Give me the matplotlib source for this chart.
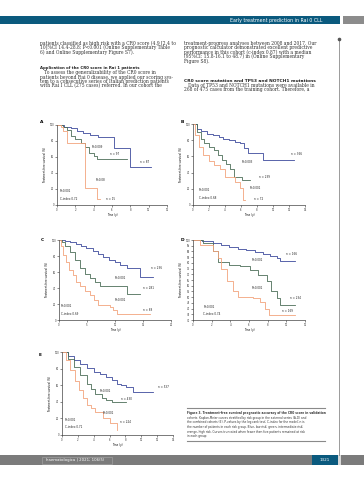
import matplotlib.pyplot as plt
from matplotlib.patches import Rectangle

W, H = 364, 480
BLUE = '#3d4a9c'
GREEN = '#4c6e58'
ORANGE = '#f2a47c'
TEAL = '#0b5a7e'
GREY = '#7b7b7b'

# ---- survival data (time in years, % treatment-free) ----
A_blue_t = [0, 0.8, 1.5, 2.2, 2.8, 3.6, 4.5, 6.2, 8.0, 10.2]
A_blue_s = [100, 98, 96, 93, 90, 87, 85, 71, 48, 48]
A_green_t = [0, 0.7, 1.1, 1.5, 2.0, 2.6, 3.0, 3.5, 4.0, 4.4, 7.6]
A_green_s = [100, 97, 94, 86, 82, 77, 72, 65, 61, 58, 58]
A_orange_t = [0, 0.4, 0.7, 1.1, 3.1, 4.4, 4.7]
A_orange_s = [100, 97, 92, 77, 21, 8, 8]

B_blue_t = [0, 0.5, 1.0, 1.75, 2.5, 3.2, 3.8, 4.5, 5.2, 5.9, 6.4, 6.9, 8.8, 12.6]
B_blue_s = [100, 94, 91, 88, 86, 84, 82, 80, 78, 76, 70, 64, 55, 55]
B_green_t = [0, 0.5, 1.0, 1.33, 2.0, 2.6, 3.1, 3.6, 4.1, 4.65, 5.1, 6.1, 7.15]
B_green_s = [100, 90, 82, 76, 72, 68, 62, 55, 50, 44, 35, 31, 31]
B_orange_t = [0, 0.3, 0.7, 1.3, 1.95, 2.6, 3.4, 4.0, 5.3, 5.9, 6.3, 6.5]
B_orange_s = [100, 86, 72, 62, 54, 49, 44, 35, 29, 21, 6, 6]

C_blue_t = [0, 1, 2, 3, 4, 4.9, 6, 7, 7.9, 9, 10, 10.9, 12.1, 14.4, 16.8]
C_blue_s = [100, 99, 97, 95, 93, 90, 86, 82, 79, 75, 72, 69, 65, 54, 54]
C_green_t = [0, 0.5, 1.0, 1.9, 2.8, 3.7, 4.6, 5.5, 6.4, 7.3, 12.1, 14.4]
C_green_s = [100, 97, 92, 85, 75, 65, 58, 52, 47, 42, 33, 33]
C_orange_t = [0, 0.3, 0.7, 1.2, 1.8, 2.5, 3.1, 3.7, 4.6, 5.5, 6.3, 7.0, 9.1, 9.7, 10.3, 16.2]
C_orange_s = [100, 92, 81, 72, 63, 56, 48, 42, 36, 31, 25, 19, 16, 12, 8, 8]

D_blue_t = [0, 1, 2.15, 3, 3.9, 4.8, 5.7, 6.6, 7.5, 8.3, 9.0, 9.3, 10.9]
D_blue_s = [100, 99, 97, 95.5, 94, 92.5, 91, 89.5, 88, 86, 84, 82, 82]
D_green_t = [0, 1.1, 2.15, 2.7, 3.9, 5.0, 6.1, 7.0, 7.9, 8.4, 9.0, 9.3, 10.9]
D_green_s = [100, 97, 90, 81, 78, 77, 74, 69, 64, 55, 49, 43, 43]
D_orange_t = [0, 0.7, 2.15, 2.7, 3.05, 3.6, 4.3, 4.85, 6.45, 7.2, 7.7, 8.1, 10.9]
D_orange_s = [100, 96, 90, 84, 75, 64, 55, 50, 49, 46, 40, 34, 34]

E_blue_t = [0, 0.7, 1.46, 2.3, 3.1, 4.0, 4.8, 5.6, 6.3, 6.9, 7.5, 8.1, 9.0, 11.5]
E_blue_s = [100, 95, 90, 86, 81, 76, 73, 70, 66, 62, 60, 58, 52, 52]
E_green_t = [0, 0.7, 1.46, 2.3, 3.1, 3.6, 4.2, 5.0, 5.6, 6.3, 8.1]
E_green_s = [100, 92, 82, 72, 62, 56, 50, 44, 42, 40, 40]
E_orange_t = [0, 0.5, 1.04, 1.6, 2.1, 2.6, 3.1, 3.6, 4.2, 5.2, 6.05, 6.9]
E_orange_s = [100, 90, 78, 65, 54, 44, 36, 32, 28, 20, 14, 6]

# axis ticks per panel
A_xticks = [0, 2, 4, 6, 8, 10, 12]
B_xticks = [0, 2, 4, 6, 8, 10, 12, 14]
C_xticks = [0, 5, 10, 15, 20]
D_xticks = [0, 2, 4, 6, 8, 10, 12]
E_xticks = [0, 2, 4, 6, 8, 10, 12, 14]
pct_ticks = [0, 20, 40, 60, 80, 100]
D_yticks = list(range(30, 101, 5))

# in-panel annotations (text, time, value)
A_notes = [("P=0.009", 3.8, 73), ("n = 97", 5.8, 64), ("n = 87", 9.1, 54),
           ("P=0.08", 4.2, 31), ("n = 15", 5.3, 8),
           ("P<0.001", 0.35, 17), ("C-index 0.72", 0.35, 7)]
B_notes = [("n = 366", 12.3, 63), ("P=0.003", 6.1, 53), ("n = 239", 8.2, 35),
           ("P=0.001", 7.15, 21), ("n = 72", 7.6, 8),
           ("P<0.001", 0.7, 19), ("C-index 0.68", 0.7, 9)]
C_notes = [("n = 236", 16.5, 65), ("P=0.001", 10, 53), ("n = 281", 15, 40),
           ("P<0.001", 10, 25), ("n = 88", 15, 12.5),
           ("P<0.001", 0.4, 17), ("C-index 0.69", 0.4, 7)]
D_notes = [("n = 166", 10, 88), ("P<0.001", 6.3, 82.5), ("P<0.001", 6.3, 58),
           ("n = 234", 10.4, 49.5), ("n = 169", 9.5, 38),
           ("P<0.001", 1.1, 41.7), ("C-index 0.74", 1.1, 35)]
E_notes = [("n = 537", 12.1, 58), ("P<0.001", 4.8, 53), ("n = 430", 7.5, 43),
           ("P<0.001", 5.2, 26), ("n = 224", 7.3, 16),
           ("P<0.001", 0.4, 18), ("C-index 0.71", 0.4, 10)]

col1_lines = ["patients classified as high risk with a CR0 score (4.9 [2.4 to",
              "10]%CI 14.4-28.8; P<0.001 (Online Supplementary Table",
              "6) and Online Supplementary Figure S7)."]
col1_head = "Application of the CR0 score in Rai 1 patients"
col1_para = ["   To assess the generalizability of the CR0 score in",
             "patients beyond Rai 0 disease, we applied our scoring sys-",
             "tem to a consecutive series of Italian prediction patients",
             "with Rai I CLL (275 cases) referred. In our cohort the"]
col2_lines = ["treatment-progress analyses between 2008 and 2017. Our",
              "prognostic calculator demonstrated excellent predictive",
              "performance in this cohort (c-index 0.87) with a median",
              "(95%CI: 15.8-16.1 to 48.7) in (Online Supplementary",
              "Figure S8)."]
col2_head = "CR0 score mutation and TP53 and NOTCH1 mutations"
col2_para = ["   Data of TP53 and NOTCH1 mutations were available in",
             "268 of 475 cases from the training cohort. Therefore, a"]
caption = ["Figure 3. Treatment-free survival prognostic accuracy of the CR0 score in validation",
           "cohorts. Kaplan-Meier curves stratified by risk group in the external series (A-D) and",
           "the combined cohorts (E). P-values by the log-rank test; C-index for the model; n is",
           "the number of patients in each risk group. Blue, low risk; green, intermediate risk;",
           "orange, high risk. Curves truncated when fewer than five patients remained at risk",
           "in each group."]

fig = plt.figure(figsize=(W / 100, H / 100), dpi=100)
page = fig.add_axes([0, 0, 1, 1])
page.set_xlim(0, W)
page.set_ylim(H, 0)
page.axis('off')

# header
page.add_patch(Rectangle((0, 16), 340, 8, color=TEAL, lw=0))
page.add_patch(Rectangle((343, 16), 21, 8, color='#8c8c8c', lw=0))
page.text(322, 20.2, "Early treatment prediction in Rai 0 CLL", color='white',
          fontsize=3.4, ha='right', va='center')
# right margin rule
page.plot([339, 339], [38, 455], color='#8a8a8a', lw=0.6)
page.plot([339], [38.5], marker='o', ms=1.6, color='#555555')

# body text
serif = 'DejaVu Serif'
body = 3.25
for i, s in enumerate(col1_lines):
    page.text(40, 43.3 + i * 4.5, s, fontsize=body, family=serif, va='center', color='#333333')
page.text(40, 68.3, col1_head, fontsize=2.75, fontweight='bold', va='center', color='#222222')
for i, s in enumerate(col1_para):
    page.text(40, 72.7 + i * 4.3, s, fontsize=body, family=serif, va='center', color='#333333')
for i, s in enumerate(col2_lines):
    page.text(184, 43.3 + i * 4.5, s, fontsize=body, family=serif, va='center', color='#333333')
page.text(184, 81.3, col2_head, fontsize=3.2, fontweight='bold', va='center', color='#222222')
for i, s in enumerate(col2_para):
    page.text(184, 85.6 + i * 4.4, s, fontsize=body, family=serif, va='center', color='#333333')

# panel letters
for letter, (x, y) in zip("ABCDE", [(42, 122), (182, 122), (42, 240), (182, 240), (40, 355)]):
    page.text(x, y, letter, fontsize=3.2, fontweight='bold', ha='center', va='center')

# caption
page.plot([187, 325], [408, 408], color='#8a8a8a', lw=0.8)
page.plot([187, 325], [441, 441], color='#8a8a8a', lw=0.8)
for i, s in enumerate(caption):
    page.text(187, 413 + i * 4.7, s, fontsize=2.05, va='center', color='#333333',
              fontweight='bold' if i == 0 else 'normal')

# footer
page.add_patch(Rectangle((0, 455), 364, 10, color=GREY, lw=0))
page.add_patch(Rectangle((42, 456.5), 70, 7, fill=False, ec='#a8a8a8', lw=0.4))
page.text(46, 460.2, "haematologica | 2021; 106(5)", color='white', fontsize=2.8, va='center')
page.add_patch(Rectangle((312, 455), 26, 10, color=TEAL, lw=0))
page.add_patch(Rectangle((338, 455), 3, 10, color='#d8d8d8', lw=0))
page.text(325, 460.2, "1321", color='white', fontsize=3.0, ha='center', va='center')


def km_panel(box, curves, xticks, yticks, notes):
    x0, y0, x1, y1 = box
    ax = fig.add_axes([x0 / W, 1 - y1 / H, (x1 - x0) / W, (y1 - y0) / H])
    ax.patch.set_alpha(0)
    for t, s, c in curves:
        ax.step(t, s, where='post', color=c, lw=0.6)
    ax.set_xlim(xticks[0], xticks[-1])
    ax.set_ylim(yticks[0], yticks[-1])
    ax.set_xticks(xticks)
    ax.set_yticks(yticks)
    ax.tick_params(labelsize=1.8, length=1.2, width=0.4, pad=0.8, colors='#333333')
    for side in ['top', 'right']:
        ax.spines[side].set_visible(False)
    for side in ['left', 'bottom']:
        ax.spines[side].set_linewidth(0.5)
        ax.spines[side].set_color('#444444')
    ax.set_xlabel("Time (y)", fontsize=1.9, labelpad=0.8)
    ax.set_ylabel("Treatment-free survival (%)", fontsize=1.9, labelpad=1.5)
    for txt, tx, ty in notes:
        ax.text(tx, ty, txt, fontsize=2.0, va='center', color='#222222')
    return ax


km_panel((57, 125, 167, 205),
         [(A_blue_t, A_blue_s, BLUE), (A_green_t, A_green_s, GREEN), (A_orange_t, A_orange_s, ORANGE)],
         A_xticks, pct_ticks, A_notes)
km_panel((193, 124, 305, 205),
         [(B_blue_t, B_blue_s, BLUE), (B_green_t, B_green_s, GREEN), (B_orange_t, B_orange_s, ORANGE)],
         B_xticks, pct_ticks, B_notes)
km_panel((59, 240, 171, 320),
         [(C_blue_t, C_blue_s, BLUE), (C_green_t, C_green_s, GREEN), (C_orange_t, C_orange_s, ORANGE)],
         C_xticks, pct_ticks, C_notes)
km_panel((193, 240, 305, 320),
         [(D_blue_t, D_blue_s, BLUE), (D_green_t, D_green_s, GREEN), (D_orange_t, D_orange_s, ORANGE)],
         D_xticks, D_yticks, D_notes)
km_panel((62, 352, 173, 435),
         [(E_blue_t, E_blue_s, BLUE), (E_green_t, E_green_s, GREEN), (E_orange_t, E_orange_s, ORANGE)],
         E_xticks, pct_ticks, E_notes)

fig.savefig("out.png", dpi=100)
